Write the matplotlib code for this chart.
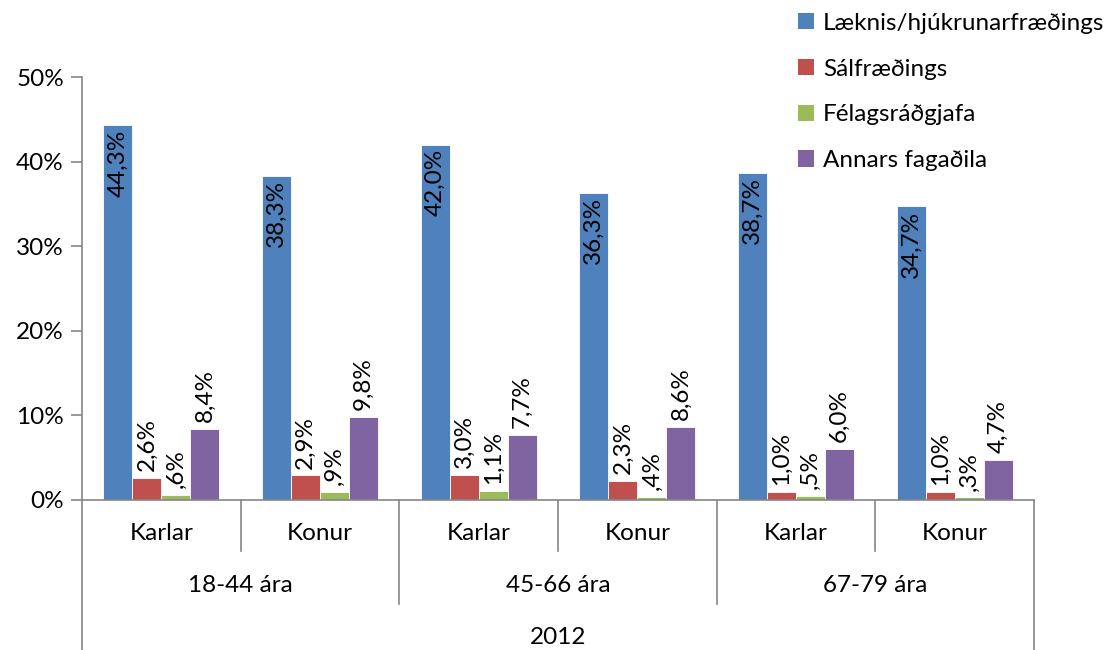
import numpy as np
import matplotlib
matplotlib.use("Agg")
import matplotlib.pyplot as plt
from matplotlib.patches import Patch

plt.rcParams['font.family'] = ['Lato', 'DejaVu Sans']

# data: share (%) by type of professional, gender and age group, 2012
genders = ["Karlar", "Konur", "Karlar", "Konur", "Karlar", "Konur"]
age_groups = ["18-44 ára", "45-66 ára", "67-79 ára"]
year_label = "2012"
series_names = ["Læknis/hjúkrunarfræðings", "Sálfræðings", "Félagsráðgjafa", "Annars fagaðila"]
laeknis = [44.3, 38.3, 42.0, 36.3, 38.7, 34.7]
salfr = [2.6, 2.9, 3.0, 2.3, 1.0, 1.0]
felags = [0.6, 0.9, 1.1, 0.4, 0.5, 0.3]
annars = [8.4, 9.8, 7.7, 8.6, 6.0, 4.7]
yticks = [0, 10, 20, 30, 40, 50]

colors = ["#4F81BD", "#C0504D", "#9BBB59", "#8064A2"]
axis_grey = "#868686"
FS = 17.5


def fmt(v):
    s = f"{v:.1f}".replace(".", ",")
    if v < 1:
        s = s[1:]  # Excel style: ",6%"
    return s + "%"


fig = plt.figure(figsize=(11.11, 6.5), dpi=100)
ax = fig.add_axes([82 / 1111, 1 - 500 / 650, (1034 - 82) / 1111, (500 - 77) / 650])

x = np.arange(len(genders))
w = 0.183
all_series = [laeknis, salfr, felags, annars]
for i, (vals, col) in enumerate(zip(all_series, colors)):
    pos = x + (i - 1.5) * w
    ax.bar(pos, vals, width=w, color=col, edgecolor="white", linewidth=0.6, zorder=2)
    for px, v in zip(pos, vals):
        if i == 0:
            ax.annotate(fmt(v), (px, v), xytext=(0, -3), textcoords="offset points",
                        rotation=90, ha="center", va="top", fontsize=FS)
        else:
            ax.annotate(fmt(v), (px, v), xytext=(0, 5), textcoords="offset points",
                        rotation=90, ha="center", va="bottom", fontsize=FS)

ax.set_xlim(-0.5, len(genders) - 0.5)
ax.set_ylim(0, 50)
ax.set_yticks(yticks)
ax.set_yticklabels([f"{t}%" for t in yticks], fontsize=FS)
ax.tick_params(axis="y", direction="out", length=8, color=axis_grey, width=1.2, pad=5)
ax.set_xticks([])
for s in ["top", "right"]:
    ax.spines[s].set_visible(False)
for s in ["left", "bottom"]:
    ax.spines[s].set_color(axis_grey)
    ax.spines[s].set_linewidth(1.2)

# multi-level category axis below the plot
h = 500 - 77
xt = ax.get_xaxis_transform()
lvl1, lvl2, lvl3 = -51 / h, -104 / h, -150 / h
for b in np.arange(len(genders) + 1) - 0.5:
    if b in (-0.5, len(genders) - 0.5):
        y_end = lvl3
    elif (b + 0.5) % 2 == 0:
        y_end = lvl2
    else:
        y_end = lvl1
    ax.plot([b, b], [0, y_end], transform=xt, color=axis_grey, lw=1.2, clip_on=False)

for xi, g in zip(x, genders):
    ax.text(xi, -33 / h, g, transform=xt, ha="center", va="center", fontsize=FS)
for k, a in enumerate(age_groups):
    ax.text(2 * k + 0.5, -85 / h, a, transform=xt, ha="center", va="center", fontsize=FS)
ax.text((len(genders) - 1) / 2, -137 / h, year_label, transform=xt, ha="center", va="center", fontsize=FS)

handles = [Patch(facecolor=c, edgecolor="none") for c in colors]
fig.legend(handles, series_names, loc="upper left", bbox_to_anchor=(788 / 1111, 1 - 3 / 650),
           frameon=False, fontsize=FS, handlelength=0.65, handleheight=0.65, handletextpad=0.4,
           labelspacing=1.02, borderaxespad=0)

fig.savefig("out.png", dpi=100)
